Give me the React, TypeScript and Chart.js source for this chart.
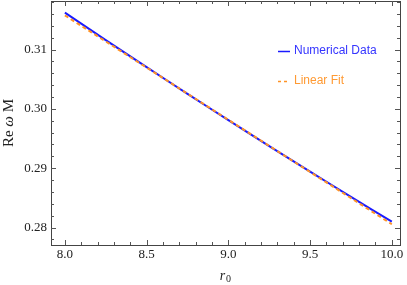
import React, { useEffect, useRef } from "react";
import { Chart, registerables } from "chart.js";

Chart.register(...registerables);

// Data
const r0Values = [8.0, 8.25, 8.5, 8.75, 9.0, 9.25, 9.5, 9.75, 10.0];
const numericalData = [0.3162, 0.31158, 0.30703, 0.30253, 0.2981, 0.29373, 0.28943, 0.28518, 0.281];
const fitX = [8.0, 10.0];
const linearFit = [0.31575, 0.28057];

const xMajorTicks = [8.0, 8.5, 9.0, 9.5, 10.0];
const xTickLabels = ["8.0", "8.5", "9.0", "9.5", "10.0"];
const yMajorTicks = [0.28, 0.29, 0.3, 0.31];
const yTickLabels = ["0.28", "0.29", "0.30", "0.31"];
const xMinorStep = 0.1;
const yMinorStep = 0.002;

const legendLabels = ["Numerical Data", "Linear Fit"];

const BLUE = "#1a1aff";
const ORANGE = "#ff9326";

const framePlugin = {
  id: "frameTicks",
  afterDraw(chart: any) {
    const { ctx, chartArea } = chart;
    const xs = chart.scales.x;
    const ys = chart.scales.y;
    const { left, right, top, bottom } = chartArea;
    ctx.save();
    ctx.strokeStyle = "#444";
    ctx.lineWidth = 1;
    // frame
    ctx.strokeRect(Math.round(left) + 0.5, Math.round(top) + 0.5, Math.round(right - left), Math.round(bottom - top));
    ctx.strokeStyle = "#555";
    const drawX = (v: number, len: number) => {
      const p = Math.round(xs.getPixelForValue(v)) + 0.5;
      if (p < left || p > right) return;
      ctx.beginPath();
      ctx.moveTo(p, bottom);
      ctx.lineTo(p, bottom - len);
      ctx.moveTo(p, top);
      ctx.lineTo(p, top + len);
      ctx.stroke();
    };
    const drawY = (v: number, len: number) => {
      const p = Math.round(ys.getPixelForValue(v)) + 0.5;
      if (p < top || p > bottom) return;
      ctx.beginPath();
      ctx.moveTo(left, p);
      ctx.lineTo(left + len, p);
      ctx.moveTo(right, p);
      ctx.lineTo(right - len, p);
      ctx.stroke();
    };
    for (let i = 0; i * xMinorStep + 7.8 <= 10.2; i++) {
      const v = 7.8 + i * xMinorStep;
      const isMajor = xMajorTicks.some((m) => Math.abs(m - v) < 1e-6);
      drawX(v, isMajor ? 5 : 3);
    }
    for (let i = 0; i * yMinorStep + 0.274 <= 0.322; i++) {
      const v = 0.274 + i * yMinorStep;
      const isMajor = yMajorTicks.some((m) => Math.abs(m - v) < 1e-6);
      drawY(v, isMajor ? 5 : 3);
    }
    // tick labels
    ctx.fillStyle = "#222";
    ctx.font = "13px 'Liberation Serif', serif";
    ctx.textAlign = "center";
    ctx.textBaseline = "middle";
    xMajorTicks.forEach((v, i) => {
      ctx.fillText(xTickLabels[i], xs.getPixelForValue(v), bottom + 10);
    });
    ctx.textAlign = "right";
    yMajorTicks.forEach((v, i) => {
      ctx.fillText(yTickLabels[i], left - 4, ys.getPixelForValue(v));
    });
    // axis titles
    ctx.font = "italic 14px 'Liberation Serif', serif";
    ctx.textAlign = "center";
    ctx.textBaseline = "middle";
    const cx = (left + right) / 2;
    ctx.fillText("r", cx - 3, 276);
    ctx.font = "10px 'Liberation Serif', serif";
    ctx.fillText("0", cx + 3, 279);
    ctx.save();
    ctx.translate(9, (top + bottom) / 2);
    ctx.rotate(-Math.PI / 2);
    ctx.textAlign = "left";
    const parts: [string, string][] = [
      ["Re ", "15px 'Liberation Serif', serif"],
      ["\u03c9", "italic 15px 'Liberation Serif', serif"],
      [" M", "15px 'Liberation Serif', serif"],
    ];
    let total = 0;
    parts.forEach(([t, f]) => {
      ctx.font = f;
      total += ctx.measureText(t).width;
    });
    let xx = -total / 2;
    parts.forEach(([t, f]) => {
      ctx.font = f;
      ctx.fillText(t, xx, 0);
      xx += ctx.measureText(t).width;
    });
    ctx.restore();
    // legend
    ctx.font = "12px 'Liberation Sans', Arial, sans-serif";
    ctx.textAlign = "left";
    ctx.textBaseline = "middle";
    const lx = 278;
    const ly = [51, 81];
    const colors = [BLUE, ORANGE];
    const textColors = ["#3535ff", "#ff9a33"];
    legendLabels.forEach((lab, i) => {
      ctx.strokeStyle = colors[i];
      ctx.lineWidth = 1.5;
      ctx.setLineDash(i === 1 ? [3, 3] : []);
      ctx.beginPath();
      ctx.moveTo(lx, ly[i] + 0.5);
      ctx.lineTo(lx + 12, ly[i] + 0.5);
      ctx.stroke();
      ctx.setLineDash([]);
      ctx.fillStyle = textColors[i];
      ctx.fillText(lab, lx + 16, ly[i]);
    });
    ctx.restore();
  },
};

export default function App() {
  const ref = useRef<HTMLCanvasElement>(null);
  useEffect(() => {
    document.body.style.margin = "0";
    const canvas = ref.current!;
    const chart = new Chart(canvas, {
      type: "scatter",
      data: {
        datasets: [
          {
            label: legendLabels[0],
            data: r0Values.map((x, i) => ({ x, y: numericalData[i] })),
            showLine: true,
            borderColor: BLUE,
            borderWidth: 2,
            pointRadius: 0,
            tension: 0.3,
            order: 2,
          },
          {
            label: legendLabels[1],
            data: fitX.map((x, i) => ({ x, y: linearFit[i] })),
            showLine: true,
            borderColor: ORANGE,
            borderWidth: 2,
            borderDash: [4, 3],
            pointRadius: 0,
            order: 1,
          },
        ],
      },
      options: {
        animation: false,
        responsive: false,
        maintainAspectRatio: false,
        layout: { padding: { top: 1, right: 7, left: 0, bottom: 0 } },
        plugins: { legend: { display: false }, tooltip: { enabled: false } },
        scales: {
          x: {
            type: "linear",
            min: 7.915,
            max: 10.05,
            ticks: { display: false },
            grid: { display: false },
            border: { display: false },
            afterFit: (s: any) => {
              s.height = 40;
            },
          },
          y: {
            type: "linear",
            min: 0.27707,
            max: 0.31817,
            ticks: { display: false },
            grid: { display: false },
            border: { display: false },
            afterFit: (s: any) => {
              s.width = 51;
            },
          },
        },
      },
      plugins: [framePlugin],
    });
    return () => chart.destroy();
  }, []);
  return <canvas ref={ref} width={407} height={285} style={{ display: "block" }} />;
}
